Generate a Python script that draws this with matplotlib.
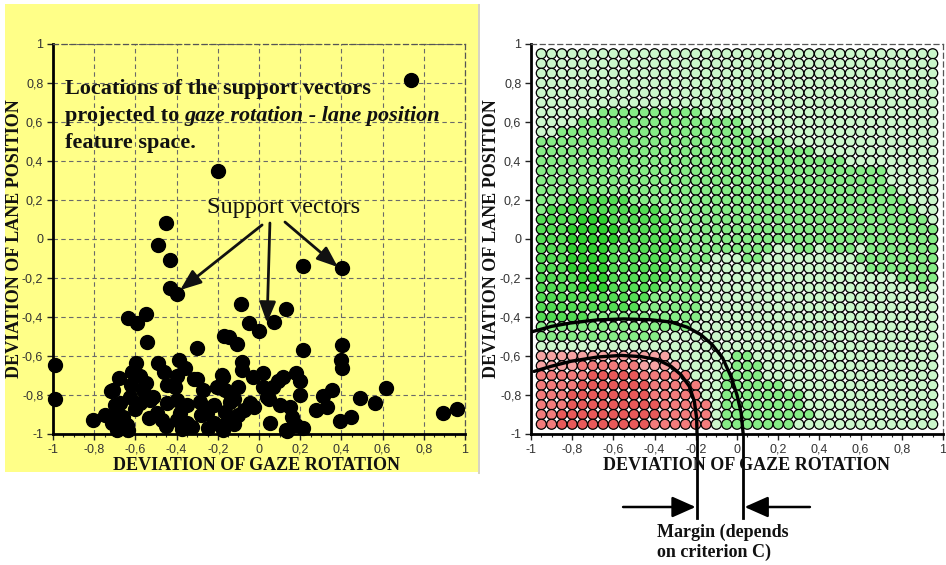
import numpy as np
import matplotlib
matplotlib.use("Agg")
import matplotlib.pyplot as plt
from matplotlib.patches import Rectangle
from matplotlib.ticker import MultipleLocator, FuncFormatter
from matplotlib.transforms import blended_transform_factory

SERIF = "Liberation Serif"
SANS = "Liberation Sans"

# support vectors, projected to (gaze rotation, lane position)
SV_GAZE = [0.74, -0.20, -0.45, -0.49, -0.43, 0.215, 0.405, -0.43, -0.40, -0.089,
           0.131, -0.634, -0.594, -0.548, -0.047, 0.001, 0.073, -0.545, -0.299, -0.172,
           -0.145, -0.107, 0.212, 0.401, 0.398, 0.405, -0.99, -0.99, -0.597, -0.488,
           -0.390, -0.357, -0.084, -0.084, -0.618, -0.678, -0.707, -0.675, -0.315, -0.273,
           -0.448, -0.408, -0.181, -0.176, 0.018, -0.027, 0.115, 0.180, 0.199, 0.199,
           0.020, 0.037, -0.141, -0.044, 0.150, 0.158, 0.182, 0.055, -0.165, -0.157,
           0.279, 0.312, 0.352, 0.328, 0.393, 0.446, 0.490, 0.562, 0.616, 0.892,
           0.962, -0.807, -0.747, -0.714, -0.641, -0.472, -0.350, -0.326, -0.220, -0.163,
           -0.074, -0.026, -0.578, -0.529, -0.448, -0.400, -0.350, -0.285, -0.220, -0.139,
           -0.496, -0.383, -0.253, -0.626, -0.561, -0.513, -0.204, -0.163, -0.690, -0.658,
           -0.60, -0.55, -0.58, -0.62, -0.46, -0.40, -0.30, -0.12, -0.10, -0.10,
           0.05, 0.07, -0.535, -0.40, -0.28, -0.70, -0.72, 0.13, -0.175, -0.375,
           -0.69, -0.635, 0.215, -0.12, 0.10, 0.09, 0.135, -0.45, -0.25]
SV_LANE = [0.815, 0.35, 0.08, -0.03, -0.11, -0.14, -0.15, -0.25, -0.28, -0.333,
           -0.361, -0.407, -0.432, -0.386, -0.432, -0.470, -0.427, -0.526, -0.560, -0.497,
           -0.50, -0.540, -0.569, -0.544, -0.621, -0.659, -0.645, -0.82, -0.637, -0.637,
           -0.620, -0.663, -0.629, -0.672, -0.680, -0.714, -0.774, -0.843, -0.719, -0.774,
           -0.748, -0.757, -0.697, -0.709, -0.685, -0.709, -0.706, -0.687, -0.730, -0.798,
           -0.757, -0.809, -0.792, -0.843, -0.860, -0.911, -0.954, -0.945, -0.886, -0.945,
           -0.877, -0.805, -0.774, -0.860, -0.933, -0.911, -0.817, -0.843, -0.766, -0.891,
           -0.872, -0.928, -0.902, -0.945, -0.954, -0.928, -0.945, -0.962, -0.945, -0.954,
           -0.877, -0.860, -0.843, -0.826, -0.843, -0.826, -0.852, -0.835, -0.852, -0.835,
           -0.894, -0.894, -0.894, -0.809, -0.774, -0.809, -0.757, -0.774, -0.894, -0.911,
           -0.87, -0.74, -0.70, -0.75, -0.68, -0.70, -0.72, -0.82, -0.76, -0.90,
           -0.82, -0.76, -0.92, -0.93, -0.90, -0.85, -0.78, -0.98, -0.98, -0.975,
           -0.98, -0.98, -0.97, -0.95, -0.85, -0.73, -0.985, -0.96, -0.97]

# classifier output on a 39 x 39 grid, run lengths per row, top row (0.95) first
# . light green  m green  g strong green  G strongest green  p pink  r red  R strong red
CELL_RUNS = [
    [(".", 39)],
    [(".", 39)],
    [(".", 39)],
    [(".", 39)],
    [(".", 39)],
    [(".", 39)],
    [(".", 6), ("m", 10), (".", 23)],
    [(".", 4), ("m", 16), (".", 19)],
    [(".", 2), ("m", 19), (".", 18)],
    [("m", 24), (".", 15)],
    [("m", 27), (".", 12)],
    [("m", 30), (".", 9)],
    [("m", 34), (".", 5)],
    [("m", 34), (".", 5)],
    [("m", 35), (".", 4)],
    [("m", 3), ("g", 6), ("m", 27), (".", 3)],
    [("m", 1), ("g", 11), ("m", 25), (".", 2)],
    [("g", 4), ("G", 3), ("g", 6), ("m", 25), (".", 1)],
    [("g", 3), ("G", 5), ("g", 5), ("m", 26)],
    [("g", 3), ("G", 5), ("g", 6), ("m", 25)],
    [("g", 3), ("G", 4), ("g", 7), ("m", 9), (".", 2), ("m", 2), (".", 1), ("m", 3), (".", 1), ("m", 7)],
    [("g", 3), ("G", 4), ("g", 6), ("m", 4), (".", 3), ("m", 2), (".", 9), ("m", 8)],
    [("g", 3), ("G", 4), ("g", 6), ("m", 3), (".", 16), ("m", 7)],
    [("g", 4), ("G", 3), ("g", 6), ("m", 3), (".", 19), ("m", 4)],
    [("g", 4), ("G", 3), ("g", 5), ("m", 4), (".", 21), ("m", 1), (".", 1)],
    [("g", 11), ("m", 5), (".", 23)],
    [("g", 10), ("m", 6), (".", 23)],
    [("g", 5), ("m", 11), (".", 23)],
    [("m", 15), (".", 24)],
    [("m", 12), (".", 27)],
    [(".", 39)],
    [("p", 13), (".", 6), ("m", 2), (".", 18)],
    [("p", 4), ("r", 6), ("p", 4), (".", 5), ("m", 3), (".", 17)],
    [("r", 5), ("R", 5), ("r", 5), (".", 3), ("m", 4), (".", 17)],
    [("r", 4), ("R", 7), ("r", 5), (".", 2), ("m", 6), (".", 15)],
    [("r", 3), ("R", 8), ("r", 5), (".", 2), ("m", 8), (".", 13)],
    [("r", 3), ("R", 9), ("r", 5), (".", 1), ("m", 8), (".", 13)],
    [("r", 2), ("R", 10), ("r", 5), (".", 1), ("m", 9), (".", 12)],
    [("r", 2), ("R", 9), ("r", 6), (".", 1), ("m", 7), (".", 14)],
]
CELL_COLORS = {".": "#cbf7cb", "m": "#86ec86", "g": "#55dc55", "G": "#33cf33",
               "p": "#f6a3a3", "r": "#f27c7c", "R": "#e85a5a"}

# decision boundary and margin curves
OUTER_X = [-1.0, -0.90, -0.81, -0.68, -0.55, -0.42, -0.32, -0.24, -0.175, -0.12, -0.07, -0.03, 0.0, 0.02, 0.03]
OUTER_Y = [-0.477, -0.448, -0.431, -0.415, -0.410, -0.414, -0.426, -0.453, -0.491, -0.542, -0.610, -0.704, -0.80, -0.89, -1.0]
INNER_X = [-0.985, -0.903, -0.806, -0.676, -0.563, -0.466, -0.385, -0.320, -0.272, -0.231, -0.207, -0.196, -0.194]
INNER_Y = [-0.679, -0.653, -0.627, -0.605, -0.597, -0.603, -0.619, -0.653, -0.696, -0.756, -0.833, -0.918, -1.0]

# "Support vectors" label and where its arrows go
SV_LABEL_XY = (0.117, 0.164)
ARROW_TAILS = [(0.015, 0.072), (0.053, 0.082), (0.126, 0.087)]
ARROW_HEADS = [(-0.383, -0.262), (0.039, -0.431), (0.383, -0.144)]

W, H = 946, 565
fig = plt.figure(figsize=(W / 100, H / 100), dpi=100)
YELLOW = "#ffff88"

fig.patches.append(Rectangle((5 / W, 1 - 472 / H), 473 / W, 468 / H, transform=fig.transFigure,
                             facecolor=YELLOW, edgecolor="none", zorder=-2))
fig.patches.append(Rectangle((477.5 / W, 1 - 474 / H), 2.5 / W, 470 / H, transform=fig.transFigure,
                             facecolor="#d8d4c4", edgecolor="none", zorder=-2))

ax1 = fig.add_axes([53 / W, 1 - 434 / H, 412 / W, 390 / H])
ax2 = fig.add_axes([531 / W, 1 - 434 / H, 412 / W, 390 / H])


def comma_fmt(v, pos):
    v = round(v, 2)
    if abs(v) < 1e-9:
        return "0"
    return f"{v:g}".replace(".", ",")


for ax in (ax1, ax2):
    ax.set_xlim(-1, 1)
    ax.set_ylim(-1, 1)
    ax.xaxis.set_major_locator(MultipleLocator(0.2))
    ax.yaxis.set_major_locator(MultipleLocator(0.2))
    ax.xaxis.set_minor_locator(MultipleLocator(0.05))
    ax.xaxis.set_major_formatter(FuncFormatter(comma_fmt))
    ax.yaxis.set_major_formatter(FuncFormatter(comma_fmt))
    ax.tick_params(which="major", direction="out", length=4, width=1, color="#222",
                   labelsize=9, labelcolor="#333", pad=3)
    ax.tick_params(which="minor", direction="out", length=2.5, width=0.8, color="#222")
    for lab in ax.get_xticklabels() + ax.get_yticklabels():
        lab.set_fontfamily(SANS)
    for s in ("left", "bottom"):
        ax.spines[s].set_linewidth(2)
        ax.spines[s].set_color("black")
    for s in ("top", "right"):
        ax.spines[s].set_linestyle((0, (4, 3)))
        ax.spines[s].set_linewidth(0.9)
        ax.spines[s].set_color("#555")

# ---- left: support vectors ----
ax1.set_facecolor(YELLOW)
ax1.grid(True, which="major", color="#6a6a6a", ls=(0, (4, 3)), lw=0.8)
ax1.set_axisbelow(True)
ax1.scatter(SV_GAZE, SV_LANE, s=100, color="black", zorder=3, clip_on=False)

bold = dict(family=SERIF, weight="bold", fontsize=16, color="#111")
ax1.text(-0.942, 0.769, "Locations of the support vectors", va="center", ha="left", **bold)
t2 = ax1.text(-0.942, 0.631, "projected to", va="center", ha="left", **bold)
ax1.annotate("gaze rotation - lane position", xy=(1, 0), xycoords=t2, xytext=(4, 0),
             textcoords="offset points", va="bottom", ha="left", style="italic", **bold)
ax1.text(-0.942, 0.492, "feature space.", va="center", ha="left", **bold)

ax1.text(*SV_LABEL_XY, "Support vectors", family=SERIF, fontsize=17.5, color="#111",
         ha="center", va="center")
for tail, head in zip(ARROW_TAILS, ARROW_HEADS):
    ax1.annotate("", xy=head, xytext=tail,
                 arrowprops=dict(arrowstyle="-|>,head_length=0.9,head_width=0.35",
                                 color="#111", lw=2, mutation_scale=14, shrinkA=0, shrinkB=0))

# ---- right: decision surface ----
ax2.set_facecolor("white")
cells = np.round(np.linspace(-0.95, 0.95, 39), 2)
cx, cy, cc = [], [], []
for r, runs in enumerate(CELL_RUNS):
    codes = "".join(code * n for code, n in runs)
    for c, code in enumerate(codes[:39]):
        cx.append(cells[c])
        cy.append(cells[::-1][r])
        cc.append(CELL_COLORS[code])
ax2.scatter(cx, cy, s=52, c=cc, edgecolors="black", linewidths=0.9, zorder=2)
ax2.plot(OUTER_X, OUTER_Y, color="black", lw=2.4, solid_capstyle="round", zorder=4)
ax2.plot(INNER_X, INNER_Y, color="black", lw=2.4, solid_capstyle="round", zorder=4)

# margin marker below the axis
blend = blended_transform_factory(ax2.transData, fig.transFigure)
for xm in (INNER_X[-1], OUTER_X[-1]):
    ax2.plot([xm, xm], [1 - 436 / H, 1 - 518 / H], transform=blend, color="black",
             lw=2, clip_on=False, zorder=5)
ya = 1 - 507 / H
ax2.annotate("", xy=(INNER_X[-1], ya), xytext=(-0.553, ya), xycoords=blend, textcoords=blend,
             arrowprops=dict(arrowstyle="-|>,head_length=0.9,head_width=0.4", color="black",
                             lw=1.8, mutation_scale=16, shrinkA=0, shrinkB=1),
             annotation_clip=False)
ax2.annotate("", xy=(OUTER_X[-1], ya), xytext=(0.354, ya), xycoords=blend, textcoords=blend,
             arrowprops=dict(arrowstyle="-|>,head_length=0.9,head_width=0.4", color="black",
                             lw=1.8, mutation_scale=16, shrinkA=0, shrinkB=1),
             annotation_clip=False)
fig.text(657 / W, 1 - 542 / H, "Margin (depends\non criterion C)", family=SERIF, weight="bold",
         fontsize=13, color="#111", ha="left", va="center", linespacing=1.2)

# axis titles
lab = dict(family=SERIF, weight="bold", fontsize=13, color="#111")
fig.text(256 / W, 1 - 465 / H, "DEVIATION OF GAZE ROTATION", ha="center", va="center", **lab)
fig.text(746 / W, 1 - 465 / H, "DEVIATION OF GAZE ROTATION", ha="center", va="center", **lab)
fig.text(15 / W, 1 - 239 / H, "DEVIATION OF LANE POSITION", rotation=90,
         ha="center", va="center", **lab)
fig.text(491 / W, 1 - 239 / H, "DEVIATION OF LANE POSITION", rotation=90,
         ha="center", va="center", **lab)

fig.savefig("out.png", dpi=100)
